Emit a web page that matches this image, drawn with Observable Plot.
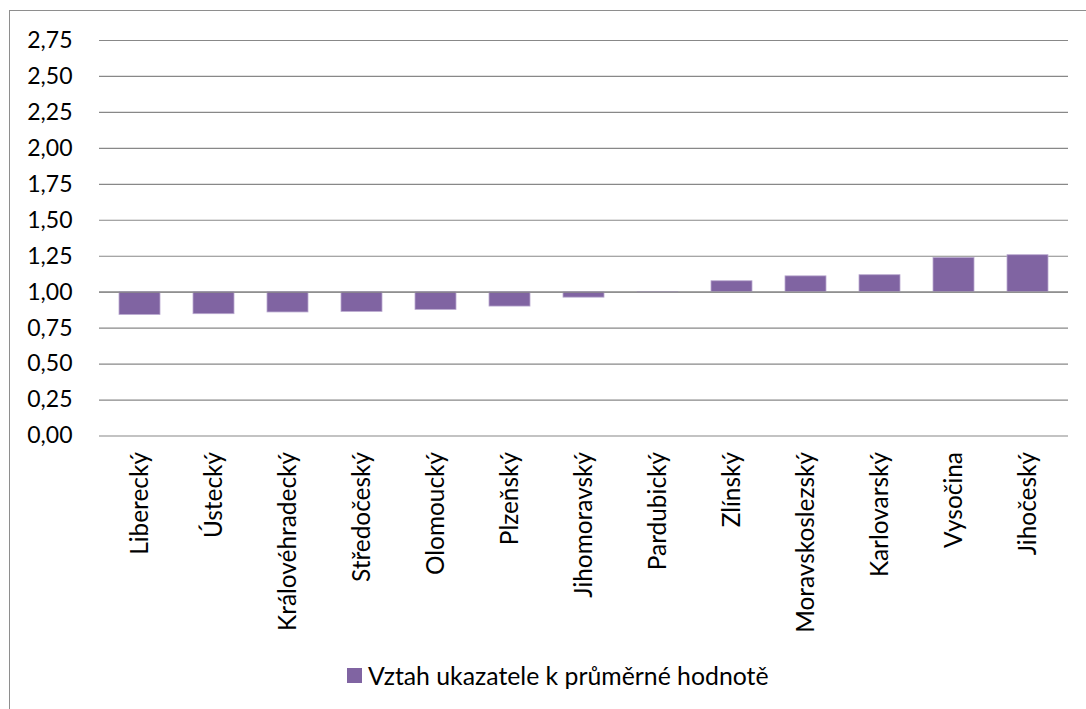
<!DOCTYPE html>
<html>
<head>
<meta charset="utf-8">
<script src="https://cdn.jsdelivr.net/npm/d3@7"></script>
<script src="https://cdn.jsdelivr.net/npm/@observablehq/plot@0.6"></script>
<style>
  html, body { margin: 0; padding: 0; background: #fff; }
  #wrap { position: relative; width: 1086px; height: 709px; overflow: hidden; font-family: Lato, "Open Sans", sans-serif; }
  #frame { position: absolute; left: 9px; top: 10px; width: 1100px; height: 720px; border: 1.5px solid #8e8e8e; box-sizing: border-box; }
  #chart { position: absolute; left: 0; top: 0; }
  #legend { position: absolute; left: 347px; top: 661px; display: flex; align-items: center; font-size: 24.8px; color: #000; }
  #legend .sw { width: 15px; height: 15px; background: #8064A2; margin-right: 6px; }
</style>
</head>
<body>
<div id="wrap">
  <div id="frame"></div>
  <div id="chart"></div>
  <div id="legend"><span class="sw"></span><span id="legend-label"></span></div>
</div>
<script>
const regions = ["Liberecký", "Ústecký", "Královéhradecký", "Středočeský", "Olomoucký", "Plzeňský", "Jihomoravský", "Pardubický", "Zlínský", "Moravskoslezský", "Karlovarský", "Vysočina", "Jihočeský"];
const values = [0.842, 0.847, 0.859, 0.863, 0.877, 0.90, 0.962, 0.997, 1.076, 1.11, 1.118, 1.238, 1.257];
const yTicks = [0, 0.25, 0.5, 0.75, 1, 1.25, 1.5, 1.75, 2, 2.25, 2.5, 2.75];
const seriesName = "Vztah ukazatele k průměrné hodnotě";
const baseline = 1;

const data = regions.map((r, i) => ({region: r, value: values[i]}));
const fmt = v => d3.format(".2f")(v).replace(".", ",");

const chart = Plot.plot({
  width: 1086,
  height: 660,
  marginLeft: 99,
  marginRight: 18,
  marginTop: 40,
  marginBottom: 224.5,
  style: {fontFamily: "Lato, 'Open Sans', sans-serif", fontSize: "23px", color: "#000", background: "transparent"},
  x: {domain: regions, paddingInner: 0.44, paddingOuter: 0.22, label: null},
  y: {domain: [0, 2.75], label: null},
  marks: [
    Plot.gridY(yTicks, {stroke: "#888", strokeOpacity: 1, strokeWidth: 1.2}),
    Plot.axisY(yTicks, {tickSize: 0, tickPadding: 27, tickFormat: fmt, fontSize: 23, label: null}),
    Plot.axisX({tickSize: 0, tickPadding: 16, tickRotate: -90, fontSize: 24.4, label: null}),
    Plot.barY(data, {x: "region", y1: () => baseline, y2: "value", fill: "#8064A2", stroke: "#b9a9cf", strokeWidth: 0.8}),
    Plot.ruleY([baseline], {stroke: "#888", strokeWidth: 1.2})
  ]
});
document.getElementById("chart").appendChild(chart);
document.getElementById("legend-label").textContent = seriesName;
</script>
</body>
</html>
